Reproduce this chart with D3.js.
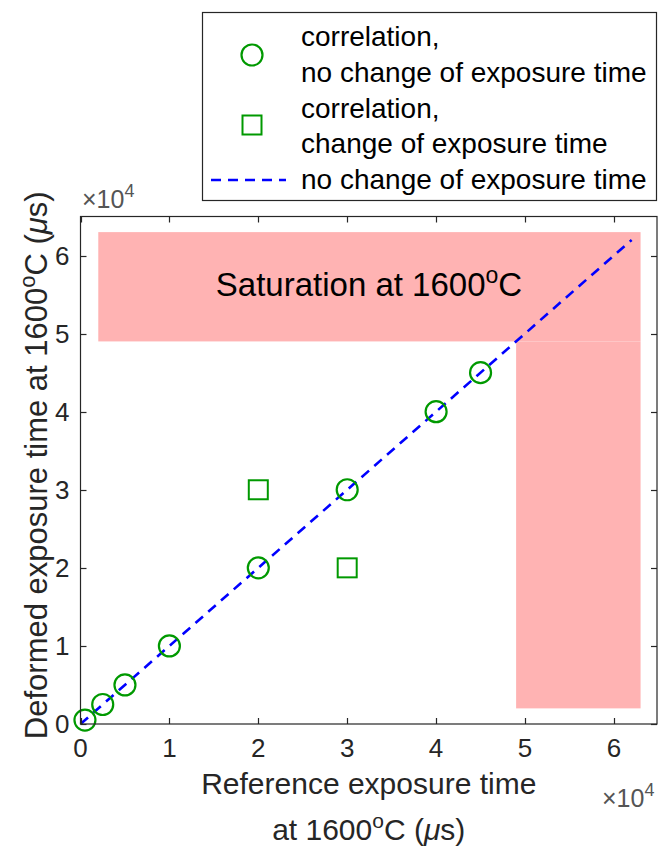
<!DOCTYPE html>
<html>
<head>
<meta charset="utf-8">
<script src="https://cdn.jsdelivr.net/npm/d3@7"></script>
<style>
  body { margin: 0; background: #fff; }
  svg text { font-family: "Liberation Sans", Arial, Helvetica, sans-serif; }
</style>
</head>
<body>
<svg id="chart" width="659" height="859"></svg>
<script>
// values (exposure times in microseconds)
var circleX = [500, 2500, 5000, 10000, 20000, 30000, 40000, 45000];
var circleY = [500, 2500, 5000, 10000, 20000, 30000, 40000, 45000];
var squareX = [20000, 30000];
var squareY = [30000, 20000];
var identityX = [0, 62000];
var identityY = [0, 62000];
// saturation zones: [x0, x1, y0, y1]
var saturationZones = [
  [2000, 63000, 49000, 63000],
  [49000, 63000, 2000, 49000]
];
var tickValues = [0, 10000, 20000, 30000, 40000, 50000, 60000];
var tickLabels = ["0", "1", "2", "3", "4", "5", "6"];
var legendLabels = [
  ["correlation,", "no change of exposure time"],
  ["correlation,", "change of exposure time"],
  ["no change of exposure time"]
];

var svg = d3.select("#chart");
var axisColor = "#262626",
    green = "#009900",
    pink = "#ffb3b3";

var plotLeft = 80.5, plotRight = 657, plotTop = 216.5, plotBottom = 724;
var x = d3.scaleLinear().domain([0, 65000]).range([plotLeft, plotLeft + 6.5 * 88.9]);
var y = d3.scaleLinear().domain([0, 65000]).range([plotBottom, plotTop]);

// shaded saturation zones
svg.append("g").selectAll("rect")
  .data(saturationZones)
  .join("rect")
    .attr("x", function(d) { return x(d[0]); })
    .attr("y", function(d) { return y(d[3]); })
    .attr("width", function(d) { return x(d[1]) - x(d[0]); })
    .attr("height", function(d) { return y(d[2]) - y(d[3]); })
    .attr("fill", pink);

// saturation label
var sat = svg.append("text")
  .attr("x", 369).attr("y", 296)
  .attr("text-anchor", "middle")
  .style("font-size", "33px").attr("fill", "#000");
sat.append("tspan").text("Saturation at 1600");
sat.append("tspan").attr("dy", -13).style("font-size", "23px").text("o");
sat.append("tspan").attr("dy", 13).text("C");

// identity line
var line = d3.line().x(function(d) { return x(d[0]); }).y(function(d) { return y(d[1]); });
svg.append("path")
  .datum(d3.zip(identityX, identityY))
  .attr("d", line)
  .attr("fill", "none")
  .attr("stroke", "#0000ff")
  .attr("stroke-width", 2.6)
  .attr("stroke-dasharray", "10,7");

// markers
svg.append("g").selectAll("circle")
  .data(d3.zip(circleX, circleY))
  .join("circle")
    .attr("cx", function(d) { return x(d[0]); })
    .attr("cy", function(d) { return y(d[1]); })
    .attr("r", 10.5)
    .attr("fill", "none")
    .attr("stroke", green)
    .attr("stroke-width", 2.2);

svg.append("g").selectAll("rect")
  .data(d3.zip(squareX, squareY))
  .join("rect")
    .attr("x", function(d) { return x(d[0]) - 9.5; })
    .attr("y", function(d) { return y(d[1]) - 9.5; })
    .attr("width", 19).attr("height", 19)
    .attr("fill", "none")
    .attr("stroke", green)
    .attr("stroke-width", 2);

// axes box and ticks (MATLAB style: inside ticks, mirrored)
var axes = svg.append("g");
axes.append("rect")
  .attr("x", plotLeft).attr("y", plotTop)
  .attr("width", plotRight - plotLeft).attr("height", plotBottom - plotTop)
  .attr("fill", "none").attr("stroke", axisColor).attr("stroke-width", 1.2);

var tlen = 6;
tickValues.forEach(function(v, i) {
  var px = Math.round(x(v)) + 0.5, py = Math.round(y(v)) + 0.5;
  axes.append("line").attr("x1", px).attr("x2", px).attr("y1", plotBottom).attr("y2", plotBottom - tlen);
  axes.append("line").attr("x1", px).attr("x2", px).attr("y1", plotTop).attr("y2", plotTop + tlen);
  axes.append("line").attr("y1", py).attr("y2", py).attr("x1", plotLeft).attr("x2", plotLeft + tlen);
  axes.append("line").attr("y1", py).attr("y2", py).attr("x1", plotRight).attr("x2", plotRight - tlen);
  axes.append("text")
    .attr("x", x(v)).attr("y", plotBottom + 33)
    .attr("text-anchor", "middle")
    .style("font-size", "26px").attr("fill", axisColor)
    .text(tickLabels[i]);
  axes.append("text")
    .attr("x", plotLeft - 11).attr("y", y(v) + 9)
    .attr("text-anchor", "end")
    .style("font-size", "26px").attr("fill", axisColor)
    .text(tickLabels[i]);
});
axes.selectAll("line").attr("stroke", axisColor).attr("stroke-width", 1.2);

// exponent multipliers
function multiplier(px, py) {
  var t = axes.append("text").attr("x", px).attr("y", py)
    .style("font-size", "25px").attr("fill", "#555");
  t.append("tspan").text("\u00d710");
  t.append("tspan").attr("dy", -11).style("font-size", "18px").text("4");
}
multiplier(82, 208);
multiplier(602, 807);

// axis labels
svg.append("text")
  .attr("x", (plotLeft + plotRight) / 2).attr("y", 794)
  .attr("text-anchor", "middle").style("font-size", "30px").attr("fill", axisColor)
  .text("Reference exposure time");
var xl2 = svg.append("text")
  .attr("x", (plotLeft + plotRight) / 2).attr("y", 840)
  .attr("text-anchor", "middle").style("font-size", "30px").attr("fill", axisColor);
xl2.append("tspan").text("at 1600");
xl2.append("tspan").attr("dy", -12).style("font-size", "21px").text("o");
xl2.append("tspan").attr("dy", 12).text("C (");
xl2.append("tspan").style("font-style", "italic").text("\u03bc");
xl2.append("tspan").text("s)");

var yl = svg.append("text")
  .attr("transform", "translate(47," + ((plotTop + plotBottom) / 2 - 5) + ") rotate(-90)")
  .attr("text-anchor", "middle").style("font-size", "31px").attr("fill", axisColor);
yl.append("tspan").text("Deformed exposure time at 1600");
yl.append("tspan").attr("dy", -12).style("font-size", "22px").text("o");
yl.append("tspan").attr("dy", 12).text("C (");
yl.append("tspan").style("font-style", "italic").text("\u03bc");
yl.append("tspan").text("s)");

// legend
var lg = svg.append("g");
lg.append("rect")
  .attr("x", 202.5).attr("y", 12.5).attr("width", 454).attr("height", 188)
  .attr("fill", "#fff").attr("stroke", axisColor).attr("stroke-width", 1.2);
lg.append("circle").attr("cx", 252).attr("cy", 55).attr("r", 10.5)
  .attr("fill", "none").attr("stroke", green).attr("stroke-width", 2.2);
lg.append("rect").attr("x", 242.5).attr("y", 115.5).attr("width", 19).attr("height", 19)
  .attr("fill", "none").attr("stroke", green).attr("stroke-width", 2);
lg.append("line").attr("x1", 211).attr("x2", 286).attr("y1", 180).attr("y2", 180)
  .attr("stroke", "#0000ff").attr("stroke-width", 2.6).attr("stroke-dasharray", "10,7");

var baselines = [[46, 82], [118, 153], [189]];
legendLabels.forEach(function(lines, i) {
  lines.forEach(function(s, j) {
    lg.append("text").attr("x", 301).attr("y", baselines[i][j])
      .style("font-size", "28px").attr("fill", "#000").text(s);
  });
});
</script>
</body>
</html>
